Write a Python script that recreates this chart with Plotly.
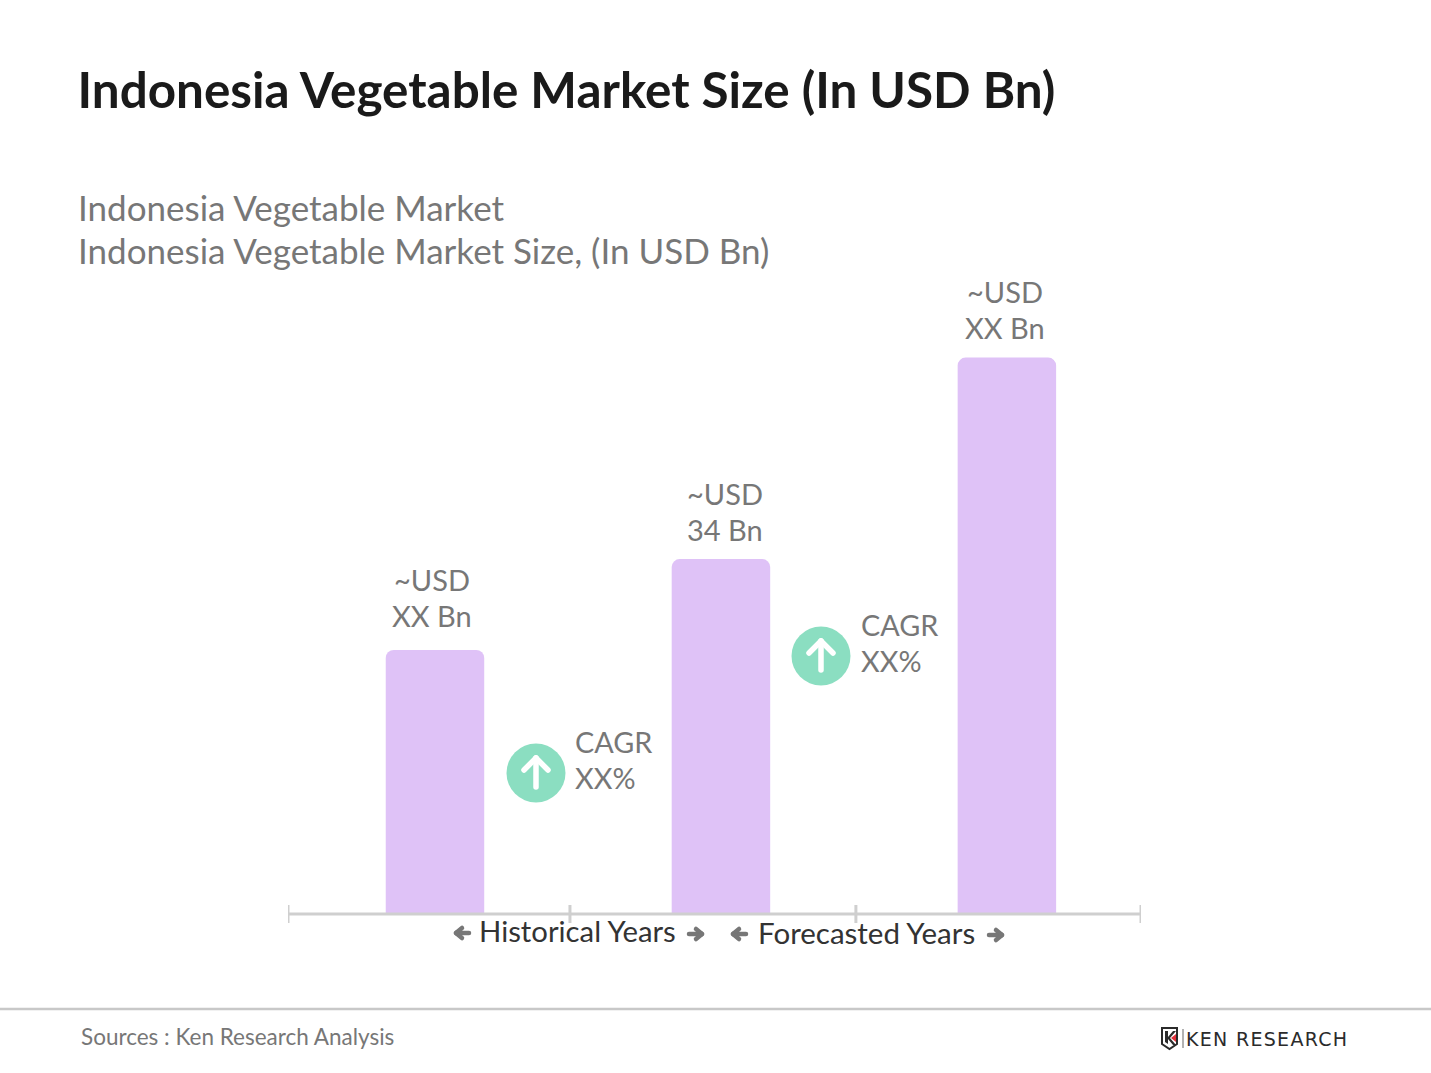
import plotly.graph_objects as go

periodos = [0, 1, 2]
valores = [25.3, 34, 53.3]
rotulos_topo = ['~USD', '~USD', '~USD']
rotulos_valor = ['XX Bn', '34 Bn', 'XX Bn']
cagr_topo = ['CAGR', 'CAGR']
cagr_valor = ['XX%', 'XX%']
limites = [-0.514, 0.472, 1.472, 2.469]

W, H = 1431, 1073
ROXO = '#DFC2F7'
VERDE = '#8BDEC1'
CINZA = '#777777'
EIXO = '#CFCFCF'
FONTE = 'Lato'
ESCURO = '#2B2B2B'


def px(x):
    return x / W


def py(y):
    return 1 - y / H


def texto(x, y, txt, size, cor=CINZA, anchor='left', font=FONTE):
    return dict(x=px(x), y=py(y), xref='paper', yref='paper', text=txt, showarrow=False,
                xanchor=anchor, yanchor='middle', align=anchor,
                font=dict(family=font, size=size, color=cor))


def poligono(pontos, cor):
    path = 'M' + ' L'.join(f'{px(x):.5f},{py(y):.5f}' for x, y in pontos) + ' Z'
    return dict(type='path', path=path, xref='paper', yref='paper', fillcolor=cor, line=dict(width=0))


def capsula(x0, y0, x1, y1, larg, cor):
    # segmento com pontas arredondadas
    dx, dy = x1 - x0, y1 - y0
    n = (dx ** 2 + dy ** 2) ** 0.5
    ux, uy = dx / n * larg / 2, dy / n * larg / 2
    nx, ny = -uy, ux
    pts = [(x0 + nx, y0 + ny), (x1 + nx, y1 + ny), (x1 + nx + ux, y1 + ny + uy), (x1 + ux, y1 + uy),
           (x1 - nx + ux, y1 - ny + uy), (x1 - nx, y1 - ny), (x0 - nx, y0 - ny),
           (x0 - nx - ux, y0 - ny - uy), (x0 - ux, y0 - uy), (x0 + nx - ux, y0 + ny - uy), (x0 + nx, y0 + ny)]
    f = lambda p: f'{px(p[0]):.5f},{py(p[1]):.5f}'
    path = (f'M{f(pts[0])} L{f(pts[1])} Q{f(pts[2])} {f(pts[3])} Q{f(pts[4])} {f(pts[5])} '
            f'L{f(pts[6])} Q{f(pts[7])} {f(pts[8])} Q{f(pts[9])} {f(pts[10])} Z')
    return dict(type='path', path=path, xref='paper', yref='paper', fillcolor=cor, line=dict(width=0))


def circulo_cagr(cx, cy):
    r = 29.5
    return [
        dict(type='circle', xref='paper', yref='paper', x0=px(cx - r), x1=px(cx + r), y0=py(cy + r), y1=py(cy - r),
             fillcolor=VERDE, line=dict(width=0)),
        capsula(cx, cy + 14, cx, cy - 15, 5.5, 'white'),
        capsula(cx, cy - 15, cx - 12, cy - 3, 5.5, 'white'),
        capsula(cx, cy - 15, cx + 12, cy - 3, 5.5, 'white'),
    ]


def seta(x0, x1, y, cor=CINZA):
    # x0 = cauda, x1 = ponta
    d = 1 if x1 > x0 else -1
    return [
        capsula(x0, y, x1 - d * 2, y, 4.5, cor),
        capsula(x1, y, x1 - d * 6, y - 5, 4.5, cor),
        capsula(x1, y, x1 - d * 6, y + 5, 4.5, cor),
    ]


fig = go.Figure(go.Bar(x=periodos, y=valores, marker=dict(color=ROXO, line=dict(width=0)),
                       width=98.5 / 286, hoverinfo='skip'))

shapes = []
# eixo e marcas
shapes.append(dict(type='line', xref='paper', yref='paper', x0=px(288), x1=px(1141), y0=py(914), y1=py(914),
                   line=dict(color=EIXO, width=3)))
for t in limites:
    shapes.append(dict(type='line', xref='x', yref='paper', x0=t, x1=t, y0=py(905), y1=py(923),
                       line=dict(color=EIXO, width=3)))
# rodape
shapes.append(dict(type='line', xref='paper', yref='paper', x0=0, x1=1, y0=py(1009), y1=py(1009),
                   line=dict(color='#C8C8C8', width=2.5)))
shapes += circulo_cagr(536, 773) + circulo_cagr(821, 656)
shapes += seta(469, 456, 933) + seta(689, 702, 934) + seta(746, 733, 934) + seta(989, 1002, 935)
# logo
shapes.append(dict(type='path', xref='paper', yref='paper', fillcolor='rgba(0,0,0,0)',
                   line=dict(color=ESCURO, width=2),
                   path=f'M{px(1162):.5f},{py(1028):.5f} L{px(1177):.5f},{py(1028):.5f} L{px(1177):.5f},{py(1044):.5f} '
                        f'L{px(1169.5):.5f},{py(1049):.5f} L{px(1162):.5f},{py(1044):.5f} Z'))
shapes.append(poligono([(1165, 1031), (1168, 1031), (1168, 1044), (1165, 1042)], ESCURO))
shapes.append(poligono([(1168, 1037), (1173, 1031), (1176, 1031), (1170, 1038), (1176, 1045), (1173, 1045), (1168, 1039)], ESCURO))
shapes.append(poligono([(1171, 1038), (1176, 1034), (1176, 1042)], '#E0303A'))
shapes.append(dict(type='line', xref='paper', yref='paper', x0=px(1183), x1=px(1183), y0=py(1029), y1=py(1048),
                   line=dict(color='#999999', width=1.5)))

anotacoes = [
    texto(76, 207, 'Indonesia Vegetable Market', 35),
    texto(76, 250, 'Indonesia Vegetable Market Size, (In USD Bn)', 35),
    texto(432, 579.5, rotulos_topo[0], 29, anchor='center'),
    texto(432, 615.5, rotulos_valor[0], 29, anchor='center'),
    texto(725, 493.5, rotulos_topo[1], 29, anchor='center'),
    texto(725, 529.5, rotulos_valor[1], 29, anchor='center'),
    texto(1005, 291.5, rotulos_topo[2], 29, anchor='center'),
    texto(1005, 327.5, rotulos_valor[2], 29, anchor='center'),
    texto(573, 741.5, cagr_topo[0], 28.8),
    texto(573, 777.5, cagr_valor[0], 28.8),
    texto(859, 624.5, cagr_topo[1], 28.8),
    texto(859, 660.5, cagr_valor[1], 28.8),
    texto(477, 930, 'Historical Years', 29.3, cor='#333333'),
    texto(756, 932, 'Forecasted Years', 29.5, cor='#333333'),
    texto(79, 1036, 'Sources : Ken Research Analysis', 22.5),
    texto(1184, 1039, '<span style="letter-spacing:1.3px">KEN RESEARCH</span>', 19, cor=ESCURO, font='DejaVu Sans'),
]

fig.update_layout(
    width=W, height=H, margin=dict(l=0, r=0, t=0, b=0),
    paper_bgcolor='white', plot_bgcolor='white', showlegend=False,
    barcornerradius=8,
    title=dict(text='<b>Indonesia Vegetable Market Size (In USD Bn)</b>', x=px(77.5), y=py(91),
               xanchor='left', yanchor='middle', font=dict(family=FONTE, size=49.4, color='#1A1A1A')),
    xaxis=dict(domain=[px(288), px(1141)], range=[limites[0], limites[-1]], showgrid=False, zeroline=False,
               showticklabels=False, ticks='', showline=False),
    yaxis=dict(domain=[py(914), py(329.4)], range=[0, 56], visible=False, showgrid=False),
    shapes=shapes, annotations=anotacoes,
)

fig.write_html('out.html', config={'displayModeBar': False}, post_script="document.body.style.margin='0';")
